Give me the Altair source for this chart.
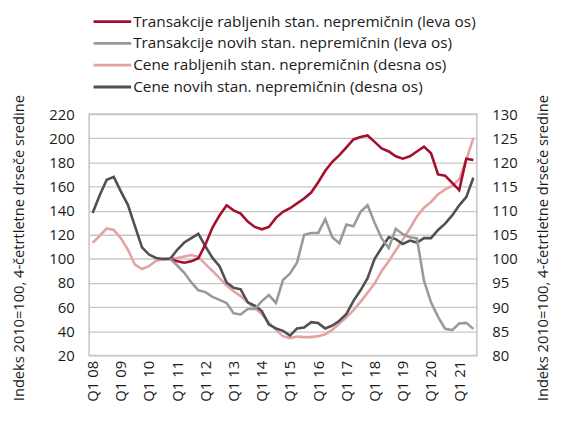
import altair as alt
import pandas as pd

# ---------------- data ----------------
quarters = [f"Q{q} {y % 100:02d}" for y in range(2008, 2022) for q in range(1, 5)][:55]
tick_labels = [f"Q1 {y % 100:02d}" for y in range(2008, 2022)]

series_names = [
    "Transakcije rabljenih stan. nepremičnin (leva os)",
    "Transakcije novih stan. nepremičnin (leva os)",
    "Cene rabljenih stan. nepremičnin (desna os)",
    "Cene novih stan. nepremičnin (desna os)",
]
colors = ["#A50F2D", "#9A9A9A", "#E4A3A3", "#505050"]

# transactions start at Q4 10 (left axis)
tx_start = 11
used_tx = [100, 98, 96.8, 98, 100.6, 112, 126, 136, 144.5, 140.2, 137.5, 131, 126.5,
           124.5, 126.5, 134, 139, 142, 146, 150, 155, 163.5, 173, 180.5, 186, 192.5,
           199, 201, 202.3, 197, 191.5, 189, 185, 183, 185, 189, 193, 187.5, 170, 169,
           163, 157, 183, 182]
new_tx = [100, 94.5, 88.5, 80.5, 74, 72.5, 68.5, 66, 63.5, 55, 54, 58.5, 58.5, 65,
          70, 63.5, 82.5, 88, 97, 120, 121.5, 121.5, 133, 118, 113, 128.5, 127, 139,
          144.5, 130, 117, 109, 125, 120.5, 118, 117, 82, 64, 52, 42, 41, 46.5, 47, 42]

# prices from Q1 08 (right axis)
used_price = [103.3, 104.8, 106.3, 106.0, 104.3, 101.9, 98.8, 97.9, 98.5, 99.6, 99.9,
              100.0, 100.2, 100.5, 100.8, 100.4, 98.9, 97.5, 96.0, 94.5, 93.3, 92.3,
              91.0, 89.8, 88.6, 86.8, 85.3, 84.0, 83.6, 83.9, 83.8, 83.8, 84.0, 84.4,
              85.3, 86.6, 87.9, 89.4, 91.1, 93.0, 94.9, 97.5, 99.5, 101.8, 104.0, 106.3,
              108.8, 110.6, 111.8, 113.4, 114.4, 115.1, 116.5, 120.5, 125.0]
new_price = [109.5, 113.2, 116.4, 117.0, 114.0, 111.2, 106.8, 102.4, 100.9, 100.2, 100.0,
             100.0, 101.9, 103.4, 104.3, 105.2, 102.6, 100.2, 98.5, 95.1, 94.0, 93.7,
             91.0, 90.3, 89.2, 86.4, 85.6, 85.1, 84.1, 85.6, 85.8, 86.9, 86.7, 85.6,
             86.2, 87.2, 88.6, 91.3, 93.5, 96.0, 100.0, 102.3, 104.5, 104.1, 103.1,
             103.8, 103.4, 104.3, 104.3, 106.0, 107.3, 109.0, 111.1, 112.8, 116.8]

# ---------------- table ----------------
rows = []
for name, vals, start in [
    (series_names[0], used_tx, tx_start),
    (series_names[1], new_tx, tx_start),
    (series_names[2], used_price, 0),
    (series_names[3], new_price, 0),
]:
    for k, v in enumerate(vals):
        rows.append({"quarter": quarters[start + k], "idx": start + k,
                     "series": name, "value": v})
df = pd.DataFrame(rows)

FONT = "Open Sans"
FS = 15
TXT = "#1a1a1a"
axis_title = "Indeks 2010=100, 4-četrtletne drseče sredine"

x_enc = alt.X(
    "quarter:O",
    scale=alt.Scale(domain=quarters, type="point", padding=0.5),
    axis=alt.Axis(values=tick_labels, labelAngle=-90, labelPadding=5, title=None,
                  ticks=False, domain=False, grid=False),
)
color_enc = alt.Color(
    "series:N",
    scale=alt.Scale(domain=series_names, range=colors),
    legend=alt.Legend(
        title=None, orient="none", legendX=12.5, legendY=-104.5, direction="vertical",
        symbolType="M-2,0H2", symbolSize=361, symbolStrokeWidth=3,
        labelFontSize=15.5, labelFont=FONT, labelColor=TXT, labelOffset=10,
        labelLimit=500, rowPadding=2, padding=0,
    ),
)

left = alt.Chart(df).transform_filter(
    alt.FieldOneOfPredicate(field="series", oneOf=series_names[:2])
).mark_line(strokeWidth=2.6).encode(
    x=x_enc,
    y=alt.Y("value:Q", scale=alt.Scale(domain=[20, 220], nice=False, zero=False),
            axis=alt.Axis(orient="left", values=list(range(20, 221, 20)),
                          title=axis_title, titleAngle=270, titleX=-70, titleY=135,
                          titleAlign="center", titleBaseline="middle",
                          titleFontSize=14.8,
                          labelPadding=15, grid=True)),
    color=color_enc,
    order=alt.Order("idx:Q"),
)

right = alt.Chart(df).transform_filter(
    alt.FieldOneOfPredicate(field="series", oneOf=series_names[2:])
).mark_line(strokeWidth=2.6).encode(
    x=x_enc,
    y=alt.Y("value:Q", scale=alt.Scale(domain=[80, 130], nice=False, zero=False),
            axis=alt.Axis(orient="right", values=list(range(80, 131, 5)),
                          title=axis_title, titleAngle=270, titleX=67, titleY=135,
                          titleAlign="center", titleBaseline="middle",
                          titleFontSize=14.8,
                          labelPadding=15, grid=False)),
    color=color_enc,
    order=alt.Order("idx:Q"),
)

chart = alt.layer(right, left).resolve_scale(y="independent").properties(
    width=392, height=244,
    autosize=alt.AutoSizeParams(type="none"),
    padding={"left": 82, "top": 105, "right": 78, "bottom": 62},
).configure_view(
    stroke="#c4c4c4", strokeWidth=1.5,
).configure_axis(
    labelFont=FONT, labelFontSize=FS, labelColor=TXT,
    titleFont=FONT, titleFontSize=FS, titleColor=TXT, titleFontWeight="normal",
    ticks=False, domain=False, gridColor="#c8c8c8", gridWidth=1.3,
).configure_legend(
    labelFont=FONT,
)

chart.save("out.html", embed_options={"renderer": "svg", "actions": False})
